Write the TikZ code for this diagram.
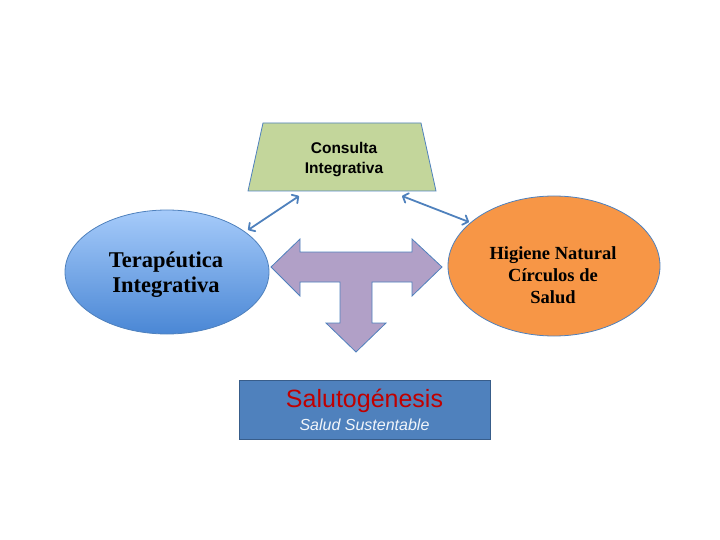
\documentclass[tikz,border=0pt]{standalone}
\usepackage{fontspec}
\setmainfont{Liberation Serif}
\setsansfont{Liberation Sans}
\usetikzlibrary{arrows.meta,shapes.geometric}
\definecolor{edgeblue}{HTML}{4F81BD}
\definecolor{trapfill}{HTML}{C3D69B}
\definecolor{orangefill}{HTML}{F79646}
\definecolor{lavender}{HTML}{B1A0C7}
\definecolor{boxfill}{HTML}{4F81BD}
\definecolor{boxedge}{HTML}{385D8A}
\definecolor{darkred}{HTML}{C00000}
\definecolor{lightblue}{HTML}{A6CBFA}
\definecolor{midblue}{HTML}{4A87D5}
\tikzset{
  conn/.style={draw=edgeblue, line width=1.8pt, line cap=round, {Straight Barb[length=4.5pt,width=10pt,round]}-{Straight Barb[length=4.5pt,width=10pt,round]}},
  ovalbox/.style={ellipse, draw=edgeblue, line width=0.8pt, inner sep=0pt, align=center},
  lbl/.style={font=\bfseries, align=center, text=black}
}
\begin{document}
\begin{tikzpicture}[x=1pt,y=-1pt]
\useasboundingbox (0,0) rectangle (720,540);
% trapezoid
\coordinate (tl) at (263,123);
\coordinate (tr) at (421,123);
\coordinate (br) at (436,191);
\coordinate (bl) at (248,191);
\draw[fill=trapfill, draw=edgeblue, line width=0.8pt] (tl) -- (tr) -- (br) -- (bl) -- cycle;
\node[lbl, font=\sffamily\bfseries\fontsize{15.5}{20}\selectfont] (consulta) at (344,160) {Consulta\\Integrativa};
\coordinate (ca) at (299,196);
\coordinate (cb) at (402,196);
\coordinate (ta) at (248,230);
\coordinate (ha) at (469,222);
% ellipses
\node[ovalbox, minimum width=204pt, minimum height=124pt, top color=lightblue, bottom color=midblue] (tera) at (167,272) {};
\node[lbl, font=\bfseries\fontsize{22.5}{25}\selectfont] at (166,274.5) {Terapéutica\\Integrativa};
\node[ovalbox, fill=orangefill, minimum width=212pt, minimum height=140pt] (hig) at (554,266) {};
\node[lbl, font=\bfseries\fontsize{18.5}{22}\selectfont] at (553,275) {Higiene Natural\\Círculos de\\Salud};
% connectors
\draw[conn] (ca) -- (ta);
\draw[conn] (cb) -- (ha);
% T arrow
\draw[fill=lavender, draw=edgeblue, line width=0.8pt, line join=miter]
  (271,267) -- (300,239) -- (300,252) -- (412,252) -- (412,239) -- (442,267)
  -- (412,296) -- (412,282) -- (372,282) -- (372,323) -- (386,323) -- (356,352)
  -- (326,323) -- (340,323) -- (340,282) -- (300,282) -- (300,296) -- cycle;
% bottom box
\node[draw=boxedge, fill=boxfill, line width=0.8pt, minimum width=251pt, minimum height=59pt, inner sep=0pt] (salut) at (364.5,409.5) {};
\node[font=\sffamily\fontsize{25}{28}\selectfont, text=darkred] at (364.5,401) {Salutogénesis};
\node[font=\sffamily\itshape\fontsize{16}{18}\selectfont, text=white!92!boxfill] at (364.5,425) {Salud Sustentable};
\end{tikzpicture}
\end{document}
